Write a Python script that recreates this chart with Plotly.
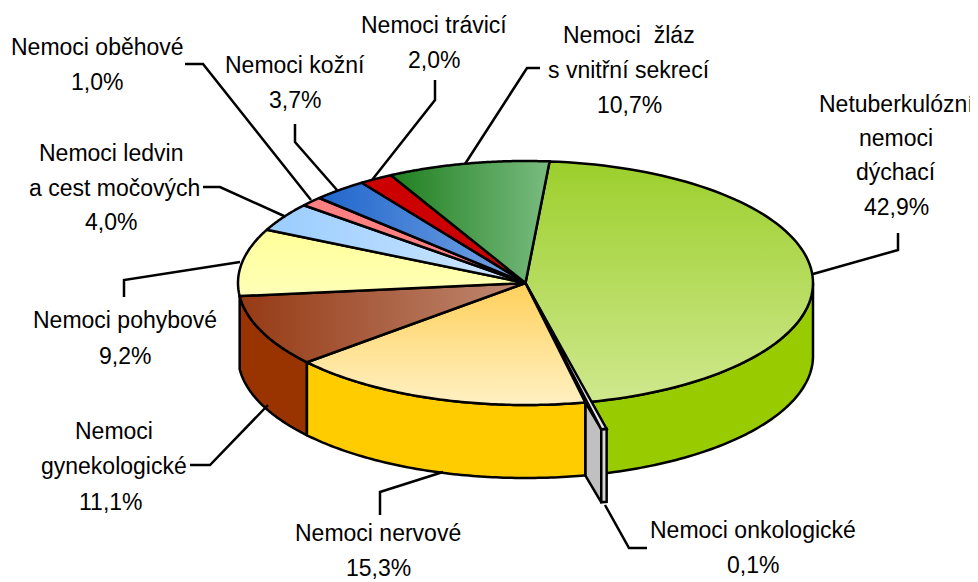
import numpy as np
import plotly.graph_objects as go

# --- data ---
categories = ["Netuberkulózní nemoci dýchací", "Nemoci onkologické", "Nemoci nervové",
              "Nemoci gynekologické", "Nemoci pohybové", "Nemoci ledvin a cest močových",
              "Nemoci oběhové", "Nemoci kožní", "Nemoci trávicí", "Nemoci žláz s vnitřní sekrecí"]
values = [42.9, 0.1, 15.3, 11.1, 9.2, 4.0, 1.0, 3.7, 2.0, 10.7]
wall_colors = ["#99cc00", "#c0c0c0", "#ffcc00", "#993300", "#ffff99", "#99ccff", "#ff8080", "#1f66cc", "#cc0000", "#1f7f1f"]
grad_start = ["#cfe88e", "#c0c0c0", "#fff1c4", "#963a14", "#ffffb8", "#99ccff", "#ff8080", "#1f66cc", "#cc0000", "#1f7f1f"]
grad_end = ["#9ccf2c", "#d8d8d8", "#ffd05a", "#c08a74", "#ffff99", "#d2e8ff", "#ff8080", "#7aa6e4", "#cc0000", "#7abc80"]
grad_dir = ["vertical", None, "vertical", "horizontal", "vertical", "horizontal", None, "horizontal", None, "horizontal"]

# label lines: (text, x, y) in pixels of the page
label_lines = [
    ("Nemoci oběhové", 97, 47), ("1,0%", 97, 82),
    ("Nemoci kožní", 295, 65), ("3,7%", 295, 100),
    ("Nemoci trávicí", 434, 25), ("2,0%", 434, 60),
    ("Nemoci  žláz", 629, 35), ("s vnitřní sekrecí", 629, 70), ("10,7%", 629, 105),
    ("Netuberkulózní", 896, 104), ("nemoci", 896, 138), ("dýchací", 896, 172), ("42,9%", 896, 207),
    ("Nemoci ledvin", 111, 153), ("a cest močových", 114, 188), ("4,0%", 111, 222),
    ("Nemoci pohybové", 125, 320), ("9,2%", 125, 356),
    ("Nemoci", 114, 431), ("gynekologické", 114, 466), ("11,1%", 111, 502),
    ("Nemoci nervové", 378, 533), ("15,3%", 378, 568),
    ("Nemoci onkologické", 753, 530), ("0,1%", 753, 565),
]
leaders = [
    [(898, 233), (898, 250), (813, 274)],
    [(647, 548), (629, 548), (605, 505)],
    [(380, 515), (380, 492), (443, 472)],
    [(190, 465), (210, 465), (268, 405)],
    [(124, 297), (124, 280), (240, 262)],
    [(203, 187), (220, 187), (284, 216)],
    [(185, 64), (203, 64), (311, 200)],
    [(295, 124), (295, 142), (337, 190)],
    [(435, 80), (435, 100), (372, 180)],
    [(540, 68), (527, 68), (465, 164)],
]

# --- view geometry ---
CX, CY, RX, RY, DEPTH = 525.5, 283, 287.5, 122, 73
EXPLODE = (16, 27)
PAGE_MARGIN = 8
warp_x = [0, 154.44, 154.8, 209.88, 249.84, 282.96, 297.36, 300.96, 314.28, 321.48, 360]
warp_d = [4.8, 12.46, 13.2, 19.6, 14.0, 12.9, 12.2, 13.2, 11.0, 10.6, 4.8]


def view_angle(a):
    return a + np.interp(a, warp_x, warp_d)


def rim(t, drop=0.0):
    r = np.radians(t)
    return CX + RX * np.sin(r), CY - RY * np.cos(r) + drop


cum = np.concatenate([[0], np.cumsum(values)]) / sum(values) * 360
starts, ends = view_angle(cum[:-1]), view_angle(cum[1:])

fig = go.Figure()


def poly(xs, ys, color, grad=None, width=2.5):
    kw = dict(x=list(xs), y=list(ys), mode="lines", fill="toself",
              line=dict(color="black", width=width, simplify=False),
              hoverinfo="skip", showlegend=False)
    if grad:
        kw["fillgradient"] = dict(type=grad[0], colorscale=[[0, grad[1]], [1, grad[2]]])
    else:
        kw["fillcolor"] = color
    fig.add_trace(go.Scatter(**kw))


def wall(a, b, color):
    a, b = max(a, 90), min(b, 270)
    if a >= b:
        return
    t = np.linspace(a, b, 80)
    x1, y1 = rim(t)
    x2, y2 = rim(t[::-1], DEPTH)
    poly(np.r_[x1, x2, x1[0]], np.r_[y1, y2, y1[0]], color)


# side walls, back to front
wall(starts[0], ends[0], wall_colors[0])

# exploded thin slice: inner wall and rim strip
gl, gr = ends[1], starts[1]
lx, ly = rim(gl)
rx, ry = rim(gr)
ex, ey = EXPLODE
poly([lx, lx + ex, lx + ex, lx, lx], [ly, ly + ey, ly + ey + DEPTH, ly + DEPTH, ly], wall_colors[1])
poly([lx + ex, rx + ex, rx + ex, lx + ex, lx + ex],
     [ly + ey, ry + ey, ry + ey + DEPTH, ly + ey + DEPTH, ly + ey], "#d8d8d8")

wall(starts[3], ends[3], wall_colors[3])
wall(starts[2], ends[2], wall_colors[2])

# top faces
for i in range(len(values)):
    if i == 1:
        continue
    t = np.linspace(starts[i], ends[i], 90)
    x, y = rim(t)
    xs = np.r_[CX, x, CX]
    ys = np.r_[CY, y, CY]
    g = (grad_dir[i], grad_start[i], grad_end[i]) if grad_dir[i] else None
    poly(xs, ys, wall_colors[i], g)

# top of the thin slice
poly([CX, lx + ex, rx + ex, CX], [CY, ly + ey, ry + ey, CY], "#e6e6e6")

# leader lines
for pts in leaders:
    fig.add_trace(go.Scatter(x=[p[0] for p in pts], y=[p[1] for p in pts], mode="lines",
                             line=dict(color="black", width=2.5), hoverinfo="skip", showlegend=False))

for text, x, y in label_lines:
    fig.add_annotation(x=x, y=y, text=text, showarrow=False, xanchor="center", yanchor="middle",
                       font=dict(family="Liberation Sans", size=23, color="black"))

fig.update_layout(width=978, height=582, margin=dict(l=0, r=0, t=0, b=0),
                  paper_bgcolor="white", plot_bgcolor="white",
                  xaxis=dict(range=[PAGE_MARGIN, 978 + PAGE_MARGIN], visible=False, fixedrange=True),
                  yaxis=dict(range=[582 + PAGE_MARGIN, PAGE_MARGIN], visible=False, fixedrange=True))
fig.write_html("out.html", config={"displayModeBar": False})
